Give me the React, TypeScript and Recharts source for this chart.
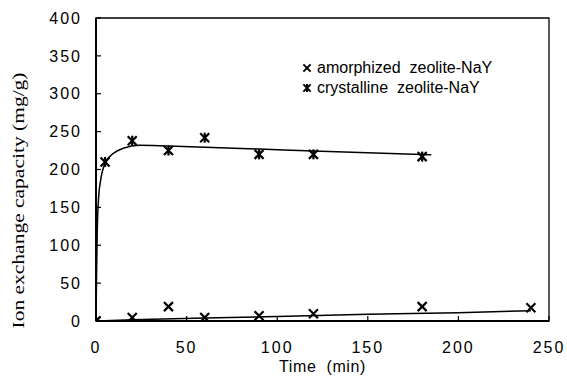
import React from 'react';
import { ComposedChart, XAxis, YAxis, Scatter, Line, ReferenceArea, Legend } from 'recharts';

const amorphTime = [0, 20, 40, 60, 90, 120, 180, 240];
const amorphCap = [0, 4.5, 19, 4.5, 7, 9.5, 19, 17.5];
const crystTime = [0, 5, 20, 40, 60, 90, 120, 180];
const crystCap = [0, 210, 238, 225, 242, 220, 220, 217];
const amorphFitTime = [0, 20, 60, 100, 150, 200, 240];
const amorphFitCap = [0, 1.5, 4, 6, 9, 11, 13.5];
const crystFitTime = [0, 0.3, 0.7, 1.5, 2.5, 5, 10, 15, 24, 40, 90, 120, 185];
const crystFitCap = [0, 60, 120, 165, 185, 208, 222, 228, 232, 231, 227, 224.5, 219.5];
const xTicks = [0, 50, 100, 150, 200, 250];
const yTicks = [0, 50, 100, 150, 200, 250, 300, 350, 400];
const seriesNames = ['amorphized  zeolite-NaY', 'crystalline  zeolite-NaY'];

const toPts = (ts: number[], vs: number[]) => ts.map((t, i) => ({ t, v: vs[i] }));
const amorphData = toPts(amorphTime, amorphCap);
const crystData = toPts(crystTime, crystCap);
const amorphFit = toPts(amorphFitTime, amorphFitCap);
const crystFit = toPts(crystFitTime, crystFitCap);

const SANS = '"Liberation Sans", Arial, Helvetica, sans-serif';
const SERIF = '"Liberation Serif", "Times New Roman", serif';

const Cross = ({ cx, cy, s = 4.5, w = 2.2 }: any) => (
  <g stroke="#000" strokeWidth={w} strokeLinecap="butt">
    <line x1={cx - s} y1={cy - s} x2={cx + s} y2={cy + s} />
    <line x1={cx - s} y1={cy + s} x2={cx + s} y2={cy - s} />
  </g>
);

const Star = ({ cx, cy, s = 4.5, w = 2.2 }: any) => (
  <g stroke="#000" strokeWidth={w} strokeLinecap="butt">
    <line x1={cx - s} y1={cy - s} x2={cx + s} y2={cy + s} />
    <line x1={cx - s} y1={cy + s} x2={cx + s} y2={cy - s} />
    <line x1={cx} y1={cy - s - 0.5} x2={cx} y2={cy + s + 0.5} />
  </g>
);

const XTitle = ({ viewBox }: any) => (
  <text
    x={viewBox.x + viewBox.width / 2}
    y={viewBox.y + 51}
    textAnchor="middle"
    fontFamily={SANS}
    fontSize={16}
    letterSpacing={0.6}
    fill="#000"
    style={{ whiteSpace: 'pre' }}
  >
    {'Time  (min)'}
  </text>
);

const YTitle = ({ viewBox }: any) => {
  const x = viewBox.x - 12;
  const y = viewBox.y + viewBox.height / 2 + 31;
  return (
    <text
      x={x}
      y={y}
      transform={`rotate(-90, ${x}, ${y})`}
      textAnchor="middle"
      fontFamily={SERIF}
      fontSize={16}
      textLength={256}
      lengthAdjust="spacingAndGlyphs"
      fill="#000"
    >
      Ion exchange capacity (mg/g)
    </text>
  );
};

const LegendBox = () => (
  <div style={{ fontFamily: SANS, fontSize: 16, color: '#000' }}>
    {seriesNames.map((n, i) => (
      <div key={n} style={{ height: 20, lineHeight: '20px', display: 'flex', alignItems: 'center', whiteSpace: 'pre' }}>
        <svg width={12} height={12} style={{ marginRight: 4 }}>
          {i === 0 ? <Cross cx={6} cy={6} s={3.6} w={2} /> : <Star cx={6} cy={6} s={3.6} w={2} />}
        </svg>
        <span>{n}</span>
      </div>
    ))}
  </div>
);

const tickStyle = { fontSize: 16, fill: '#000', fontFamily: SANS, letterSpacing: 2 };

export default function App() {
  return (
    <div style={{ position: 'absolute', left: 0, top: 0, width: 567, height: 378, background: '#fff' }}>
      <ComposedChart width={567} height={378} margin={{ top: 18, right: 18, bottom: 27, left: 36 }}>
        <ReferenceArea x1={0} x2={250} y1={0} y2={400} fill="none" stroke="#000" strokeWidth={1.3} ifOverflow="visible" />
        <XAxis
          type="number"
          dataKey="t"
          domain={[0, 250]}
          ticks={xTicks}
          allowDataOverflow
          height={30}
          tickSize={-5}
          tickMargin={26}
          tick={tickStyle}
          axisLine={{ stroke: '#000', strokeWidth: 2 }}
          tickLine={{ stroke: '#000', strokeWidth: 1.2 }}
          label={<XTitle />}
        />
        <YAxis
          type="number"
          domain={[0, 400]}
          ticks={yTicks}
          allowDataOverflow
          width={60}
          tickSize={-5}
          tickMargin={19}
          tick={tickStyle}
          axisLine={{ stroke: '#000', strokeWidth: 2 }}
          tickLine={{ stroke: '#000', strokeWidth: 1.2 }}
          label={<YTitle />}
        />
        <Legend
          layout="vertical"
          align="center"
          verticalAlign="middle"
          wrapperStyle={{ left: 301, top: 58, width: 230 }}
          content={<LegendBox />}
        />
        <Line
          data={crystFit}
          dataKey="v"
          type="monotone"
          stroke="#000"
          strokeWidth={1.5}
          dot={false}
          activeDot={false}
          isAnimationActive={false}
          legendType="none"
        />
        <Line
          data={amorphFit}
          dataKey="v"
          type="monotone"
          stroke="#000"
          strokeWidth={1.5}
          dot={false}
          activeDot={false}
          isAnimationActive={false}
          legendType="none"
        />
        <Scatter
          name={seriesNames[0]}
          data={amorphData}
          dataKey="v"
          isAnimationActive={false}
          shape={(p: any) => <Cross cx={p.cx} cy={p.cy} />}
        />
        <Scatter
          name={seriesNames[1]}
          data={crystData}
          dataKey="v"
          isAnimationActive={false}
          shape={(p: any) => <Star cx={p.cx} cy={p.cy} />}
        />
      </ComposedChart>
    </div>
  );
}
